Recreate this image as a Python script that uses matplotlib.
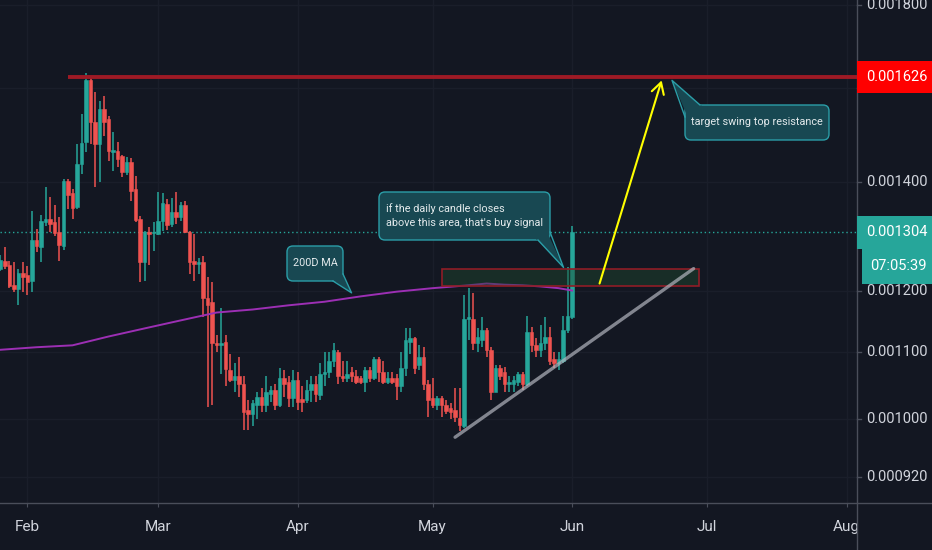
import matplotlib
matplotlib.use("Agg")
import matplotlib.pyplot as plt
import matplotlib.dates as mdates
from matplotlib.patches import Rectangle, FancyBboxPatch, Polygon
from matplotlib.ticker import NullLocator
import numpy as np
import pandas as pd

plt.rcParams['font.family'] = ['Roboto', 'DejaVu Sans']

# daily candles starting 2020-01-26, prices in millionths (1304 -> 0.001304)
start_date = "2020-01-26"
opens = [1238, 1251, 1244, 1210, 1202, 1231, 1226, 1216, 1289, 1276,
         1322, 1328, 1322, 1304, 1278, 1402, 1378, 1351, 1436, 1482,
         1619, 1525, 1478, 1554, 1532, 1461, 1463, 1453, 1420, 1441,
         1386, 1328, 1249, 1304, 1302, 1300, 1324, 1357, 1319, 1341,
         1332, 1355, 1304, 1251, 1247, 1249, 1188, 1180, 1114, 1110,
         1116, 1072, 1057, 1062, 1051, 1013, 1007, 1020, 1032, 1020,
         1036, 1042, 1020, 1060, 1053, 1030, 1057, 1029, 1027, 1042,
         1050, 1035, 1065, 1069, 1085, 1100, 1063, 1059, 1068, 1063,
         1059, 1054, 1072, 1060, 1088, 1069, 1053, 1059, 1060, 1047,
         1075, 1116, 1122, 1080, 1092, 1050, 1030, 1020, 1030, 1020,
         1016, 1013, 1001, 990, 1153, 1153, 1113, 1119, 1134, 1103,
         1039, 1075, 1068, 1050, 1051, 1053, 1066, 1051, 1132, 1111,
         1103, 1114, 1124, 1089, 1083, 1085, 1135, 1155]
highs = [1263, 1276, 1251, 1249, 1237, 1249, 1242, 1343, 1309, 1336,
         1390, 1370, 1355, 1332, 1406, 1406, 1386, 1478, 1543, 1636,
         1626, 1592, 1572, 1583, 1538, 1504, 1482, 1455, 1451, 1449,
         1412, 1334, 1306, 1313, 1322, 1380, 1378, 1366, 1368, 1380,
         1361, 1363, 1306, 1300, 1256, 1260, 1224, 1214, 1127, 1170,
         1126, 1096, 1083, 1092, 1062, 1027, 1027, 1039, 1045, 1062,
         1047, 1050, 1075, 1072, 1062, 1072, 1069, 1047, 1057, 1062,
         1062, 1083, 1099, 1099, 1114, 1103, 1085, 1085, 1077, 1072,
         1063, 1076, 1077, 1091, 1091, 1085, 1069, 1068, 1065, 1099,
         1138, 1138, 1124, 1111, 1107, 1057, 1060, 1033, 1033, 1027,
         1023, 1045, 1045, 1192, 1205, 1195, 1138, 1155, 1138, 1108,
         1080, 1080, 1077, 1062, 1062, 1069, 1069, 1157, 1140, 1122,
         1143, 1155, 1140, 1100, 1100, 1157, 1240, 1315]
lows = [1233, 1237, 1205, 1197, 1176, 1198, 1192, 1198, 1267, 1249,
        1315, 1304, 1296, 1251, 1272, 1347, 1328, 1347, 1416, 1461,
        1478, 1390, 1400, 1495, 1443, 1422, 1430, 1410, 1414, 1363,
        1322, 1214, 1216, 1245, 1269, 1298, 1306, 1307, 1313, 1319,
        1324, 1302, 1228, 1216, 1228, 1155, 1017, 1020, 1100, 1065,
        1047, 1053, 1039, 1032, 984, 984, 989, 999, 1009, 1009,
        1024, 1013, 1017, 1032, 1017, 1017, 1013, 1010, 1023, 1024,
        1024, 1027, 1047, 1060, 1077, 1050, 1053, 1054, 1053, 1050,
        1050, 1039, 1054, 1057, 1054, 1050, 1050, 1050, 1027, 1039,
        1062, 1096, 1065, 1072, 1042, 1003, 1016, 1013, 1003, 1006,
        999, 996, 982, 987, 1119, 1103, 1100, 1108, 1092, 1027,
        1038, 1057, 1038, 1038, 1038, 1047, 1042, 1047, 1099, 1091,
        1091, 1103, 1080, 1075, 1072, 1083, 1130, 1152]
closes = [1253, 1242, 1207, 1202, 1231, 1224, 1214, 1289, 1278, 1324,
          1328, 1320, 1302, 1280, 1402, 1374, 1349, 1436, 1480, 1619,
          1525, 1478, 1554, 1525, 1463, 1465, 1447, 1420, 1441, 1382,
          1326, 1249, 1304, 1300, 1304, 1324, 1359, 1317, 1341, 1332,
          1355, 1304, 1249, 1247, 1249, 1187, 1176, 1113, 1110, 1114,
          1074, 1057, 1062, 1050, 1010, 1006, 1022, 1032, 1020, 1038,
          1042, 1020, 1060, 1050, 1030, 1057, 1024, 1024, 1042, 1050,
          1036, 1065, 1069, 1085, 1102, 1062, 1060, 1065, 1063, 1054,
          1053, 1072, 1060, 1088, 1068, 1054, 1059, 1053, 1047, 1075,
          1118, 1122, 1075, 1092, 1050, 1027, 1020, 1030, 1019, 1011,
          1009, 1003, 991, 1153, 1155, 1114, 1124, 1135, 1103, 1039,
          1075, 1062, 1050, 1053, 1056, 1066, 1051, 1132, 1110, 1103,
          1114, 1124, 1085, 1083, 1089, 1135, 1157, 1304]

# 200 day moving average, read at a few days (day number from start)
ma_days = [0, 8, 16, 24, 32, 40, 48, 56, 64, 72, 80, 88, 96, 104, 108, 112, 116, 120, 124, 127]
ma_vals = [1103, 1107, 1110, 1124, 1137, 1150, 1163, 1168, 1175, 1181, 1190, 1198, 1204, 1209,
           1212, 1210, 1209, 1207, 1204, 1200]

price_ticks = [1800, 1600, 1400, 1200, 1100, 1000, 920]
resistance = 1626
last_price = 1304
countdown = "07:05:39"

# drawings: (day, price)
resistance_from = 15.1
zone_days = (98, 155.2)
zone_prices = (1208, 1238)
trend_days = [101, 154]
trend_prices = [974, 1238]
arrow_from = (133.1, 1212)
arrow_to = (146.9, 1618)
ma_note_tip = (78.0, 1196)
buy_note_tip = (125.1, 1240)
target_note_tip = (149.2, 1618)

scale = 1e-6
bg = '#131722'
up = '#26a69a'
down = '#ef5350'
axis_col = '#4a4e5a'
text_col = '#d1d4dc'
label_size = 10.5

dates = pd.date_range(start_date, periods=len(opens), freq='D')
x = mdates.date2num(dates)
x0 = x[0]

o = np.array(opens) * scale
h = np.array(highs) * scale
l = np.array(lows) * scale
c = np.array(closes) * scale

fig = plt.figure(figsize=(9.32, 5.5), dpi=100, facecolor=bg)
ax = fig.add_axes([0, 47 / 550, 857 / 932, 503 / 550])
ax.set_facecolor(bg)
ax.set_yscale('log')
ax.set_ylim(887e-6, 1814e-6)
ax.set_xlim(x0 - 0.11, x0 + 190.3)
ax.yaxis.set_major_locator(NullLocator())
ax.yaxis.set_minor_locator(NullLocator())
for s in ax.spines.values():
    s.set_visible(False)
ax.xaxis.set_major_locator(mdates.MonthLocator())
ax.xaxis.set_major_formatter(mdates.DateFormatter('%b'))
ax.tick_params(axis='x', colors=axis_col, labelcolor=text_col, labelsize=label_size + 0.5,
               length=3, pad=9)

# faint grid
for p in price_ticks:
    ax.axhline(p * scale, color='#1a1e2a', lw=1, zorder=0)
for t in ax.get_xticks():
    ax.axvline(t, color='#1a1e2a', lw=1, zorder=0)

# candles
rising = c >= o
cols = np.where(rising, up, down)
ax.vlines(x, l, h, colors=cols, lw=1.1, zorder=2)
lo = np.minimum(o, c)
hi = np.maximum(np.maximum(o, c), lo * 1.0015)
ax.bar(x, hi - lo, bottom=lo, width=0.8, color=cols, edgecolor=cols, lw=0.4, zorder=3)

# moving average and last price line
ax.plot(x0 + np.array(ma_days), np.array(ma_vals) * scale, color='#9c2fb4', lw=1.4, zorder=4)
ax.axhline(last_price * scale, color=up, lw=1, ls=(0, (1, 2)), zorder=1)

# drawings
ax.hlines(resistance * scale, x0 + resistance_from, x0 + 200, color='#9e1a25', lw=2.8, zorder=5)
ax.add_patch(Rectangle((x0 + zone_days[0], zone_prices[0] * scale),
                       zone_days[1] - zone_days[0], (zone_prices[1] - zone_prices[0]) * scale,
                       fc=(0.12, 0.29, 0.18, 0.45), ec='#8f1d26', lw=1.2, zorder=5))
ax.plot(x0 + np.array(trend_days), np.array(trend_prices) * scale, color='#b2b5be',
        alpha=0.7, lw=2.4, solid_capstyle='round', zorder=5)
ax.annotate('', xy=(x0 + arrow_to[0], arrow_to[1] * scale),
            xytext=(x0 + arrow_from[0], arrow_from[1] * scale),
            arrowprops=dict(arrowstyle='->,head_length=0.8,head_width=0.45', color='#ffff00',
                            lw=1.5, shrinkA=0, shrinkB=0), zorder=6)

# overlay in pixel units for the price scale and the notes
ov = fig.add_axes([0, 0, 1, 1], zorder=5)
ov.set_xlim(0, 932)
ov.set_ylim(550, 0)
ov.axis('off')
ov.patch.set_alpha(0)


def to_px(day, price):
    d = ax.transData.transform((x0 + day, price * scale))
    return ov.transData.inverted().transform(d)


ov.add_patch(Rectangle((857, 0), 75, 550, fc=bg, ec='none', zorder=1))
ov.plot([857, 857], [0, 550], color=axis_col, lw=1, zorder=2)
ov.plot([0, 932], [503, 503], color=axis_col, lw=1, zorder=2)

for p in price_ticks:
    yp = to_px(0, p)[1]
    ov.plot([857, 861], [yp, yp], color=axis_col, lw=1, zorder=2)
    ov.text(866, yp, f'{p * scale:.6f}', color=text_col, fontsize=label_size,
            va='center', ha='left', zorder=3)

yr = to_px(0, resistance)[1]
ov.add_patch(Rectangle((857, yr - 16), 75, 32, fc='#ff0000', ec='none', zorder=4))
ov.text(866, yr, f'{resistance * scale:.6f}', color='white', fontsize=label_size,
        va='center', ha='left', zorder=5)
yl = to_px(0, last_price)[1]
ov.add_patch(Rectangle((857, yl - 16.5), 75, 33, fc=up, ec='none', zorder=4))
ov.text(866, yl, f'{last_price * scale:.6f}', color='white', fontsize=label_size,
        va='center', ha='left', zorder=5)
ov.add_patch(Rectangle((862, yl + 16.5), 70, 35, fc=up, ec='none', zorder=4))
ov.text(870, yl + 34, countdown, color='white', fontsize=label_size, va='center',
        ha='left', zorder=5)

note_fc = '#184852'
note_ec = '#2b9ea8'
note_tc = '#e3eaec'


def callout(box, base, tip, lines, line_y, tx, ha='left'):
    bx, by, bw, bh = box
    ov.add_patch(FancyBboxPatch((bx, by), bw, bh, boxstyle='round,pad=0,rounding_size=6',
                                fc=note_fc, ec=note_ec, lw=1, zorder=6))
    tp = to_px(*tip)
    cx, cy = bx + bw / 2, by + bh / 2
    inner = [(px + (cx - px) * 0.04, py + (cy - py) * 0.08) for px, py in base]
    ov.add_patch(Polygon([inner[0], tuple(tp), inner[1]], closed=True, fc=note_fc,
                         ec='none', zorder=7))
    ov.plot([base[0][0], tp[0], base[1][0]], [base[0][1], tp[1], base[1][1]],
            color=note_ec, lw=1, zorder=8)
    for s, yy in zip(lines, line_y):
        ov.text(tx, yy, s, color=note_tc, fontsize=7.8, va='center', ha=ha, zorder=9)


callout((287, 246, 56, 35), [(333, 281), (343, 274)], ma_note_tip,
        ["200D MA"], [263.5], 315, ha='center')
callout((379, 192, 171, 48), [(538, 240), (550, 232)], buy_note_tip,
        ["if the daily candle closes", "above this area, that's buy signal"],
        [209, 222.5], 386)
callout((685, 105, 144, 35), [(700, 105), (685, 117)], target_note_tip,
        ["target swing top resistance"], [122], 757, ha='center')

fig.savefig('out.png', dpi=100, facecolor=bg)
